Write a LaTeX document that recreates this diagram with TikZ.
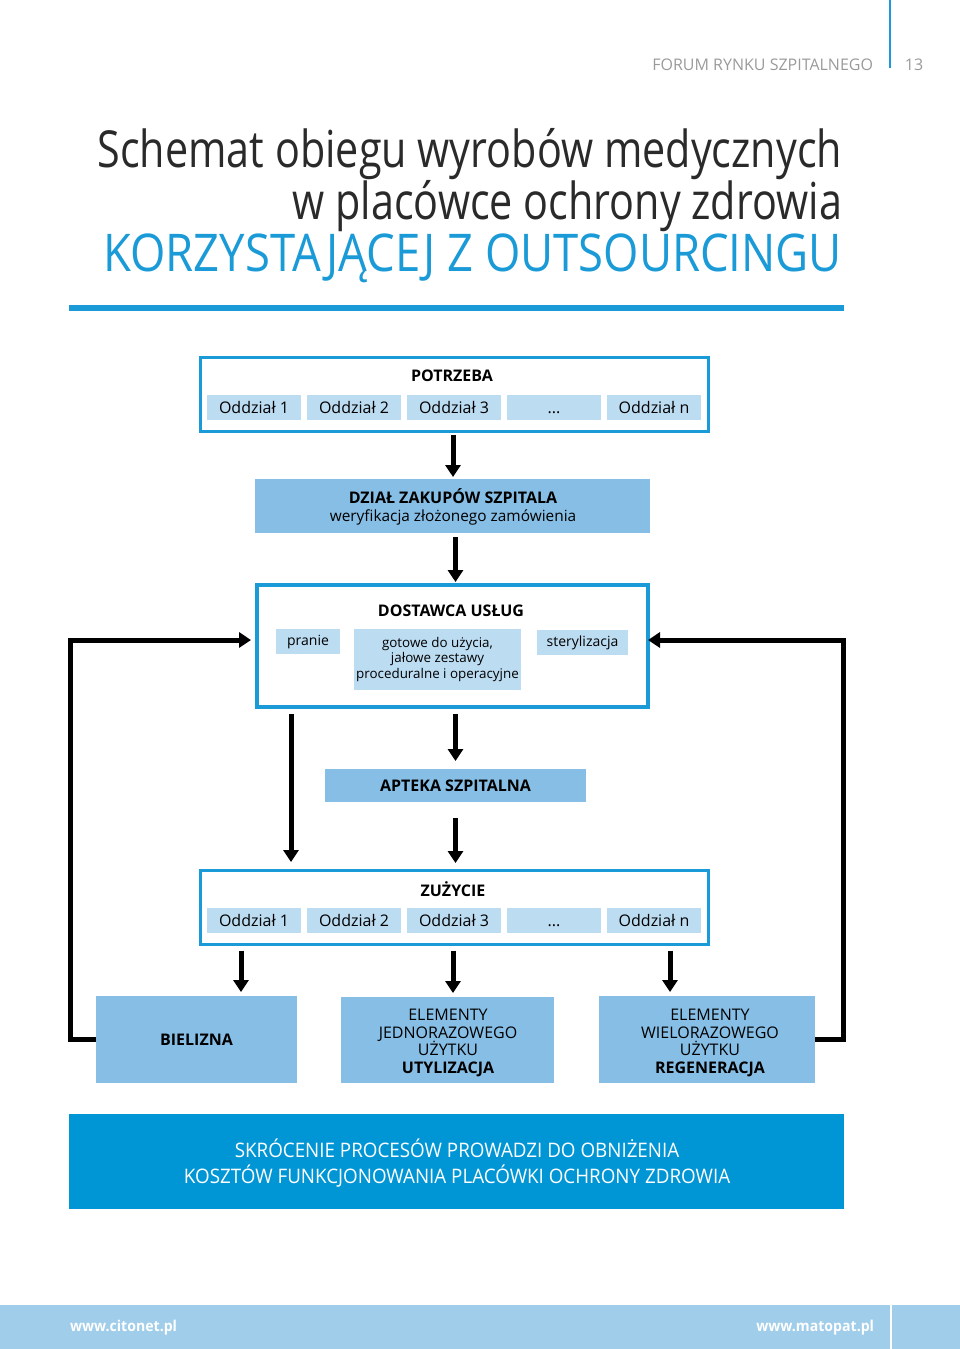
\documentclass[tikz,border=0pt]{standalone}
\usepackage{fontspec}
\setmainfont{Open Sans}
\newfontfamily\titlefont[FakeStretch=0.81]{Open Sans}
\newfontfamily\titlefontb[FakeStretch=0.874]{Open Sans}
\newfontfamily\bannerfont[FakeStretch=0.94]{Open Sans}
\newfontfamily\footfont[FakeStretch=0.94]{Open Sans}
\usetikzlibrary{arrows.meta}
\definecolor{cblue}{HTML}{1A9AD6}
\definecolor{lblue}{HTML}{BCDCF2}
\definecolor{mblue}{HTML}{86BEE5}
\definecolor{bannerblue}{HTML}{0096D6}
\definecolor{footblue}{HTML}{9FCDEA}
\definecolor{hgray}{HTML}{9A9A9A}
\definecolor{titlegray}{HTML}{2A2A2A}
\newcommand\fsz[2]{\fontsize{#1pt}{#2pt}\selectfont}
\begin{document}
\begin{tikzpicture}[x=1pt,y=-1pt,
  outerbox/.style={draw=cblue, line width=3pt, fill=white, inner sep=0pt, outer sep=0pt},
  subbox/.style={fill=lblue, inner sep=0pt, outer sep=0pt, minimum height=25pt, minimum width=94pt, font=\fsz{16}{19}},
  midbox/.style={fill=mblue, inner sep=0pt, outer sep=0pt, align=center},
  ttl/.style={font=\bfseries\fsz{16}{19}},
  arr/.style={line width=5pt, -{Triangle[width=15pt,length=12pt]}},
  txt/.style={inner sep=0pt, outer sep=0pt}
]
\useasboundingbox (0,0) rectangle (960,1349);

% header
\draw[cblue, line width=2pt] (890,0) -- (890,68);
\node[txt, anchor=base east, text=hgray, font=\fsz{16}{19}] (forum) at (873,70) {FORUM RYNKU SZPITALNEGO};
\node[txt, anchor=base, text=hgray, font=\fsz{16}{19}] (page) at (914,70) {13};

% title
\node[txt, anchor=base east, text=titlegray, font=\titlefont\fsz{51}{60}] (t1) at (842,167) {Schemat obiegu wyrobów medycznych};
\node[txt, anchor=base east, text=titlegray, font=\titlefont\fsz{51}{60}] (t2) at (842,219) {w placówce ochrony zdrowia};
\node[txt, anchor=base east, text=cblue, font=\titlefontb\fsz{52}{60}] (t3) at (842,271) {KORZYSTAJĄCEJ Z OUTSOURCINGU};
\fill[cblue] (69,305) rectangle (844,311);

% POTRZEBA
\node[outerbox, minimum width=508pt, minimum height=74pt] (potrzeba) at (454,394) {};
\node[txt, ttl] (potrzebaT) at (452,376) {POTRZEBA};
\node[subbox] (p1) at (254,407.5) {Oddział 1};
\node[subbox] (p2) at (354,407.5) {Oddział 2};
\node[subbox] (p3) at (454,407.5) {Oddział 3};
\node[subbox] (p4) at (554,407.5) {\vphantom{Oddział}...};
\node[subbox] (p5) at (654,407.5) {Oddział n};

% DZIAL ZAKUPOW
\node[midbox, minimum width=395pt, minimum height=54pt] (zakupy) at (452.5,506) {};
\node[txt, align=center, font=\fsz{16}{18}] (zakupyT) at (453,507) {\textbf{DZIAŁ ZAKUPÓW SZPITALA}\\{\fsz{15.4}{18}weryfikacja złożonego zamówienia}};

% DOSTAWCA
\node[outerbox, line width=4pt, minimum width=391pt, minimum height=122pt] (dostawca) at (452.5,646) {};
\node[txt, ttl] (dostawcaT) at (451,611) {DOSTAWCA USŁUG};
\node[subbox, minimum width=64pt, font=\fsz{14}{15.5}] (pranie) at (308,641.5) {\vphantom{Oddział}pranie};
\node[subbox, minimum width=167pt, minimum height=61pt, align=center, font=\fsz{13.4}{15.5}] (gotowe) at (437.5,659.5) {gotowe do użycia,\\jałowe zestawy\\proceduralne i operacyjne};
\node[subbox, minimum width=91pt, font=\fsz{14}{15.5}] (steryl) at (582.5,642.5) {sterylizacja};

% APTEKA
\node[midbox, minimum width=261pt, minimum height=33pt, font=\bfseries\fsz{16}{19}] (apteka) at (455.5,785.5) {APTEKA SZPITALNA};

% ZUZYCIE
\node[outerbox, minimum width=508pt, minimum height=74pt] (zuzycie) at (454,907) {};
\node[txt, ttl] (zuzycieT) at (453,889) {ZUŻYCIE};
\node[subbox] (z1) at (254,920.5) {Oddział 1};
\node[subbox] (z2) at (354,920.5) {Oddział 2};
\node[subbox] (z3) at (454,920.5) {Oddział 3};
\node[subbox] (z4) at (554,920.5) {\vphantom{Oddział}...};
\node[subbox] (z5) at (654,920.5) {Oddział n};

% bottom boxes
\node[midbox, minimum width=201pt, minimum height=87pt, font=\bfseries\fsz{16}{17.5}] (bielizna) at (196.5,1039.5) {BIELIZNA};
\node[midbox, minimum width=213pt, minimum height=86pt, font=\fsz{16}{17.5}] (utyl) at (447.5,1040) {};
\node[txt, align=center, font=\fsz{16}{17.5}] (utylT) at (448,1043) {ELEMENTY\\JEDNORAZOWEGO\\UŻYTKU\\\textbf{UTYLIZACJA}};
\node[midbox, minimum width=216pt, minimum height=87pt, font=\fsz{16}{17.5}] (regen) at (707,1039.5) {};
\node[txt, align=center, font=\fsz{16}{17.5}] (regenT) at (710,1043) {ELEMENTY\\WIELORAZOWEGO\\UŻYTKU\\\textbf{REGENERACJA}};

% banner
\node[fill=bannerblue, inner sep=0pt, minimum width=775pt, minimum height=95pt] (banner) at (456.5,1161.5) {};
\node[txt, text=white, align=center, font=\bannerfont\fsz{20}{26}] (bannerT) at (457,1163) {SKRÓCENIE PROCESÓW PROWADZI DO OBNIŻENIA\\KOSZTÓW FUNKCJONOWANIA PLACÓWKI OCHRONY ZDROWIA};

% footer
\fill[footblue] (0,1305) rectangle (960,1349);
\draw[white, line width=1.2pt] (891,1305) -- (891,1349);
\node[txt, anchor=base west, text=white, font=\footfont\bfseries\fsz{15}{18}] (citonet) at (70,1331) {www.citonet.pl};
\node[txt, anchor=base east, text=white, font=\footfont\bfseries\fsz{15}{18}] (matopat) at (874,1331) {www.matopat.pl};

% helper coordinates
\coordinate (xa) at (291,0);
\coordinate (xb1) at (241,0);
\coordinate (xb2) at (453,0);
\coordinate (xb3) at (670,0);
\coordinate (lx) at (70,640);
\coordinate (rx) at (843,640);

% connectors
\draw[arr, shorten <=3.5pt, shorten >=2pt] (potrzeba.south -| xb2) -- (zakupy.north -| xb2);
\draw[arr, shorten <=4pt, shorten >=3pt] (zakupy.south -| apteka.north) -- (dostawca.north -| apteka.north);
\draw[arr, shorten <=7pt, shorten >=8pt] (dostawca.south -| apteka.north) -- (apteka.north);
\draw[arr, shorten <=16pt, shorten >=7pt] (apteka.south) -- (zuzycie.north -| apteka.south);
\draw[arr, shorten <=7pt, shorten >=8pt] (dostawca.south -| xa) -- (zuzycie.north -| xa);
\draw[arr, shorten <=6.5pt, shorten >=4pt] (zuzycie.south -| xb1) -- (bielizna.north -| xb1);
\draw[arr, shorten <=6.5pt, shorten >=4pt] (zuzycie.south -| xb2) -- (utyl.north -| xb2);
\draw[arr, shorten <=6.5pt, shorten >=4pt] (zuzycie.south -| xb3) -- (regen.north -| xb3);
\draw[arr, shorten >=6pt] (bielizna.west) -- (bielizna.west -| lx) -- (lx) -- (lx -| dostawca.west);
\draw[arr, shorten >=0pt] (regen.east) -- (regen.east -| rx) -- (rx) -- (rx -| dostawca.east);
\end{tikzpicture}
\end{document}
